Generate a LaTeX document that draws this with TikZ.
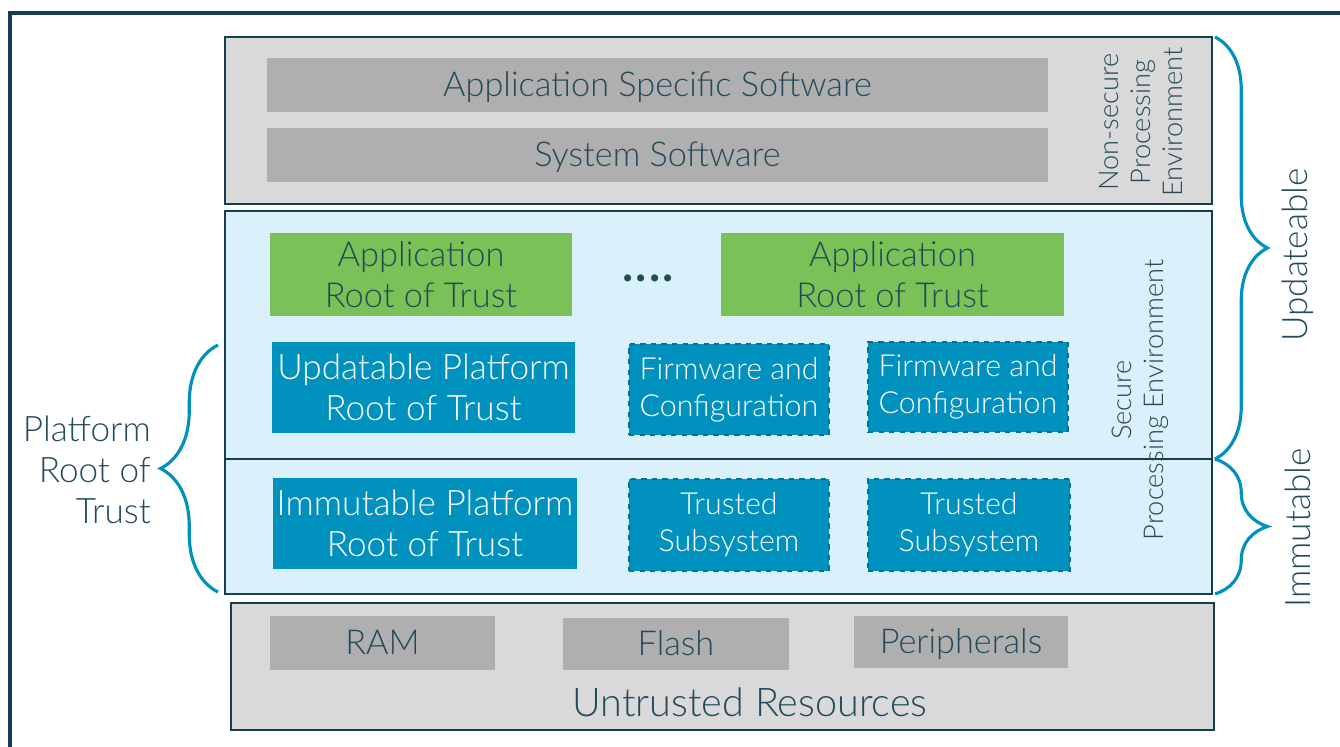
\documentclass[tikz,border=0pt]{standalone}
\usepackage{fontspec}
\setmainfont{Lato Light}
\newfontfamily\latoreg{Lato}
\usetikzlibrary{decorations.pathreplacing}
\definecolor{frameteal}{RGB}{22, 62, 78}
\definecolor{textteal}{RGB}{34, 74, 90}
\definecolor{panelgray}{RGB}{217, 217, 217}
\definecolor{bargray}{RGB}{175, 175, 175}
\definecolor{securebg}{RGB}{218, 241, 251}
\definecolor{rotgreen}{RGB}{122, 193, 88}
\definecolor{rotblue}{RGB}{0, 145, 190}
\tikzset{
  panel/.style={draw=frameteal, line width=1.2pt, fill=panelgray},
  graybar/.style={fill=bargray, text=textteal, inner sep=0pt, text depth=0.12em, font=\fontsize{19.5}{22}\selectfont},
  smallbar/.style={graybar, font=\fontsize{19.5}{22}\selectfont},
  greenbox/.style={fill=rotgreen, text=textteal, inner sep=0pt, align=center, font=\fontsize{19.6}{23.5}\selectfont},
  bluebox/.style={fill=rotblue, text=white, inner sep=0pt, align=center, font=\fontsize{20}{23.5}\selectfont},
  dashbox/.style={bluebox, draw=rotblue!80!black, dashed, line width=0.8pt, font=\fontsize{17.3}{21}\selectfont},
  sidelabel/.style={rotate=90, text=textteal, align=center, font=\fontsize{15.5}{18}\selectfont},
  bracelabel/.style={text=textteal, font=\fontsize{20}{23.5}\selectfont},
  curly/.style={draw=rotblue, line width=1.8pt, decorate, decoration={brace, amplitude=#1}}
}
\begin{document}
\begin{tikzpicture}[x=0.02cm, y=-0.02cm]
  \useasboundingbox (0,0) rectangle (1340,747);
  \begin{scope}
    \clip (0,0) rectangle (1340,747);
    \draw[frameteal, line width=1.8pt] (10,13) rectangle (1360,770);
  \end{scope}
  % non-secure processing environment
  \draw[panel] (225,37) rectangle (1212,204);
  \node[graybar, minimum width=781*0.02cm, minimum height=54*0.02cm] (appsw) at (657.5,85) {Application Specific Software};
  \node[graybar, minimum width=781*0.02cm, minimum height=54*0.02cm] (syssw) at (657.5,155) {System Software};
  \node[sidelabel] (nspe) at (1141,122) {Non-secure\\Processing\\Environment};
  % secure processing environment
  \draw[panel, fill=securebg] (225,211) rectangle (1212,594);
  \draw[frameteal, line width=1.2pt] (225,459) -- (1212,459);
  \node[greenbox, minimum width=302*0.02cm, minimum height=83*0.02cm] (aprot1) at (421,274.5) {Application\\Root of Trust};
  \node[greenbox, minimum width=343*0.02cm, minimum height=83*0.02cm] (aprot2) at (892.5,274.5) {Application\\Root of Trust};
  \node[text=textteal, anchor=base, font=\latoreg\fontsize{32}{32}\selectfont] (dots) at (648,281) {....};
  \node[bluebox, minimum width=303*0.02cm, minimum height=91*0.02cm] (uprot) at (423.5,387.5) {Updatable Platform\\Root of Trust};
  \node[dashbox, minimum width=200*0.02cm, minimum height=91*0.02cm] (fwc1) at (729,389.5) {Firmware and\\Configuration};
  \node[dashbox, minimum width=200*0.02cm, minimum height=90*0.02cm] (fwc2) at (968,387) {Firmware and\\Configuration};
  \node[bluebox, minimum width=304*0.02cm, minimum height=91*0.02cm] (iprot) at (425,523.5) {Immutable Platform\\Root of Trust};
  \node[dashbox, minimum width=200*0.02cm, minimum height=92*0.02cm] (tss1) at (729,525) {Trusted\\Subsystem};
  \node[dashbox, minimum width=202*0.02cm, minimum height=92*0.02cm] (tss2) at (969,525) {Trusted\\Subsystem};
  \node[sidelabel] (spe) at (1140,400) {Secure\\Processing Environment};
  % untrusted resources
  \draw[panel] (231,603) rectangle (1214,730);
  \node[smallbar, minimum width=225*0.02cm, minimum height=54*0.02cm] (ram) at (382.5,643) {RAM};
  \node[smallbar, minimum width=226*0.02cm, minimum height=52*0.02cm] (flash) at (676,644) {Flash};
  \node[smallbar, minimum width=214*0.02cm, minimum height=52*0.02cm] (periph) at (961,642) {Peripherals};
  \node[text=textteal, font=\fontsize{22.5}{26}\selectfont] (untrusted) at (750,702) {Untrusted Resources};
  % braces
  \coordinate (updtop) at (1215,37);
  \coordinate (updbot) at (1215,459);
  \coordinate (immbot) at (1215,594);
  \coordinate (prtbot) at (218,592);
  \coordinate (prttop) at (218,345);
  \draw[curly=1.05cm] (updtop) -- (updbot);
  \draw[curly=1.05cm] (updbot) -- (immbot);
  \draw[curly=1.15cm] (prtbot) -- (prttop);
  \node[bracelabel, rotate=90] (updlbl) at (1298,255) {Updateable};
  \node[bracelabel, rotate=90] (immlbl) at (1298,528) {Immutable};
  \node[bracelabel, align=right, anchor=east] (prtlbl) at (157,470) {Platform\\Root of\\Trust};
\end{tikzpicture}
\end{document}
